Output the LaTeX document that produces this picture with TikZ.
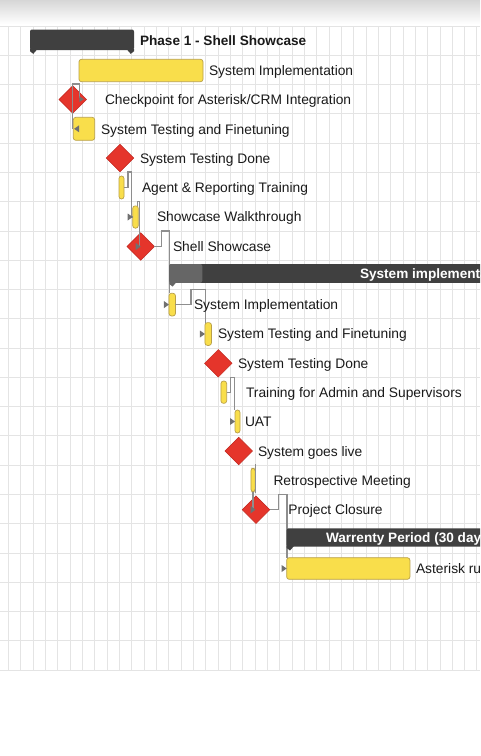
\documentclass[tikz,border=0pt]{standalone}
\usepackage{fontspec}
\setmainfont{Liberation Sans}
\usetikzlibrary{shapes.geometric,calc}
\definecolor{ybarfill}{HTML}{F9DE4B}
\definecolor{ybardraw}{HTML}{B9A048}
\definecolor{msred}{HTML}{E5352B}
\definecolor{msredd}{HTML}{C0281F}
\definecolor{sumdark}{HTML}{404040}
\definecolor{sumlight}{HTML}{666666}
\definecolor{depc}{HTML}{8E8E8E}
\definecolor{tric}{HTML}{707070}
\definecolor{gridc}{HTML}{E4E4E4}
\definecolor{txt}{HTML}{1A1A1A}
\begin{document}
\begin{tikzpicture}[x=1pt,y=-1pt,
  gridline/.style={draw=gridc, line width=0.7pt},
  task/.style={rectangle, rounded corners=2.5pt, fill=ybarfill, draw=ybardraw, line width=0.7pt, inner sep=0pt, outer sep=0pt},
  ms/.style={diamond, fill=msred, draw=msredd, line width=0.5pt, minimum width=27.5pt, minimum height=27.5pt, inner sep=0pt, outer sep=0pt},
  summ/.style={rectangle, rounded corners=2pt, fill=sumdark, inner sep=0pt, outer sep=0pt},
  lbl/.style={anchor=west, inner sep=0pt, outer sep=0pt, text=txt, font=\fontsize{13.8}{16}\selectfont, text height=10pt, text depth=0pt},
  blbl/.style={lbl, font=\bfseries\fontsize{13.6}{16}\selectfont},
  dep/.style={draw=depc, line width=1.1pt},
  tri/.style={fill=tric}
]
\useasboundingbox (0,0) rectangle (480,756);
\clip (0,0) rectangle (480,756);
\fill[white] (0,0) rectangle (480,756);
\shade[top color=black!16, bottom color=white] (0,0) rectangle (480,24);
% grid
\foreach \k in {0,...,38} \draw[gridline] ({8.3+12.33*\k},26) -- ({8.3+12.33*\k},670);
\foreach \k in {0,...,22} \draw[gridline] (0,{26+29.27*\k}) -- (480,{26+29.27*\k});

% tasks and milestones
\node[task, minimum width=124pt, minimum height=22.4pt] (b1) at (141,70.5) {};
\node[ms] (d2) at (72.7,99.5) {};
\node[task, minimum width=21.4pt, minimum height=23pt] (b3) at (84,128.8) {};
\node[ms] (d4) at (120,158) {};
\node[task, minimum width=5pt, minimum height=23pt] (b5) at (121.5,187.5) {};
\node[task, minimum width=5.6pt, minimum height=22.3pt] (b6) at (135.5,217) {};
\node[ms] (d7) at (140.7,246.5) {};
\node[task, minimum width=6.5pt, minimum height=22.7pt] (b9) at (172.2,304.6) {};
\node[task, minimum width=6.5pt, minimum height=22.8pt] (b10) at (208.2,334) {};
\node[ms] (d11) at (218.3,363.3) {};
\node[task, minimum width=5.7pt, minimum height=22.3pt] (b12) at (223.8,392.2) {};
\node[task, minimum width=5pt, minimum height=23pt] (b13) at (237.5,421.5) {};
\node[ms] (d14) at (238.7,451) {};
\node[task, minimum width=4.2pt, minimum height=23.4pt] (b15) at (253,480) {};
\node[ms] (d16) at (256,509.7) {};
\node[task, minimum width=123.3pt, minimum height=21.6pt] (b18) at (348.3,568.5) {};

% connectors
\draw[dep] ($(b1.south west)+(0.3,16.5)$) -- ($(b1.south west)+(0.3,2.3)$) -| (d2.north) -- (d2.center |- b3.west);
\draw[dep] (b5.east) -- ++(4,0) -- ++(0,-15.5) -- ++(3.7,0) |- (b6.west);
\draw[dep] ($(b6.north east)+(-0.8,0)$) -- ++(0,-4) -| ($(d7.center)+(-1.4,0)$);
\draw[dep] (d7.east) -- ++(6.7,0) -- ++(0,-15.5) -| ($(b9.north west)+(0.3,0)$);
\draw[dep] (b9.east) -- ++(15.5,0) -- ++(0,-15.3) -| ($(b10.north west)+(0.5,0)$);
\draw[dep] (b12.east) -- ++(4,0) -- ++(0,-14.5) -| ($(b13.north west)+(-0.7,0)$);
\draw[dep] ($(b15.north east)+(0.7,-4)$) -- ($(b15.south east)+(0.7,1)$);
\draw[dep] (b15.south) -- ($(d16.center)+(-3,0)$);
\draw[dep] (d16.east) -- ++(9,0) -- ++(0,-15.4) -| ($(b18.north west)+(0.3,0)$);

% summary bars
\node[summ, minimum width=104pt, minimum height=20.5pt] (b0) at (82,39.75) {};
\fill[sumdark] ($(b0.south west)+(0,-1)$) -- ++(7.5,0) -- ++(-4.2,4.8) -- ++(-3.3,-2.5) -- cycle;
\fill[sumdark] ($(b0.south east)+(0,-1)$) -- ++(-7.5,0) -- ++(4.2,4.8) -- ++(3.3,-2.5) -- cycle;
\node[summ, minimum width=390.7pt, minimum height=18.7pt] (b8) at (364.65,273.4) {};
\fill[sumlight, rounded corners=2pt] (b8.north west) rectangle ($(b8.south west)+(33,0)$);
\fill[sumlight] ($(b8.south west)+(0,-1)$) -- ++(7.5,0) -- ++(-4.2,4.8) -- ++(-3.3,-2.5) -- cycle;
\node[summ, minimum width=333pt, minimum height=18.4pt] (b17) at (453.2,537.5) {};
\fill[sumdark] ($(b17.south west)+(0,-1)$) -- ++(7.5,0) -- ++(-4.2,4.8) -- ++(-3.3,-2.5) -- cycle;

% arrow heads
\fill[tri] ($(b1.south west)+(0.3,14.5)$) -- ++(4.5,3) -- ++(-4.5,3) -- cycle;
\fill[tri] ($(b3.west)+(0.8,0)$) -- ++(5,-3.5) -- ++(0,7) -- cycle;
\fill[tri] (b6.west) -- ++(-5,-3.5) -- ++(0,7) -- cycle;
\fill[tri] (d7.center) -- ++(-5,-3.5) -- ++(0,7) -- cycle;
\fill[tri] (b9.west) -- ++(-5,-3.5) -- ++(0,7) -- cycle;
\fill[tri] (b10.west) -- ++(-5,-3.5) -- ++(0,7) -- cycle;
\fill[tri] (b13.west) -- ++(-5,-3.5) -- ++(0,7) -- cycle;
\fill[tri] ($(d16.center)+(-0.5,0)$) -- ++(-5,-3.8) -- ++(0,7.6) -- cycle;
\fill[tri] (b18.west) -- ++(-5,-3.5) -- ++(0,7) -- cycle;

% labels
\node[blbl] (t0) at (140,40) {Phase 1 - Shell Showcase};
\node[lbl] (t1) at (209,70.5) {System Implementation};
\node[lbl] (t2) at (105,99.5) {Checkpoint for Asterisk/CRM Integration};
\node[lbl] (t3) at (101,129) {System Testing and Finetuning};
\node[lbl] (t4) at (140,158) {System Testing Done};
\node[lbl] (t5) at (142,187.5) {Agent \& Reporting Training};
\node[lbl] (t6) at (157,216.5) {Showcase Walkthrough};
\node[lbl] (t7) at (173,246) {Shell Showcase};
\node[blbl, text=white] (t8) at (360,273.5) {System implementation};
\node[lbl] (t9) at (194,304.5) {System Implementation};
\node[lbl] (t10) at (218,333.5) {System Testing and Finetuning};
\node[lbl] (t11) at (238,363) {System Testing Done};
\node[lbl] (t12) at (246,392.5) {Training for Admin and Supervisors};
\node[lbl] (t13) at (245,421.5) {UAT};
\node[lbl] (t14) at (258,451) {System goes live};
\node[lbl] (t15) at (273.5,480.5) {Retrospective Meeting};
\node[lbl] (t16) at (288.3,509.5) {Project Closure};
\node[blbl, text=white] (t17) at (326,537.5) {Warrenty Period (30 days)};
\node[lbl] (t18) at (416,568.5) {Asterisk running};
\end{tikzpicture}
\end{document}
